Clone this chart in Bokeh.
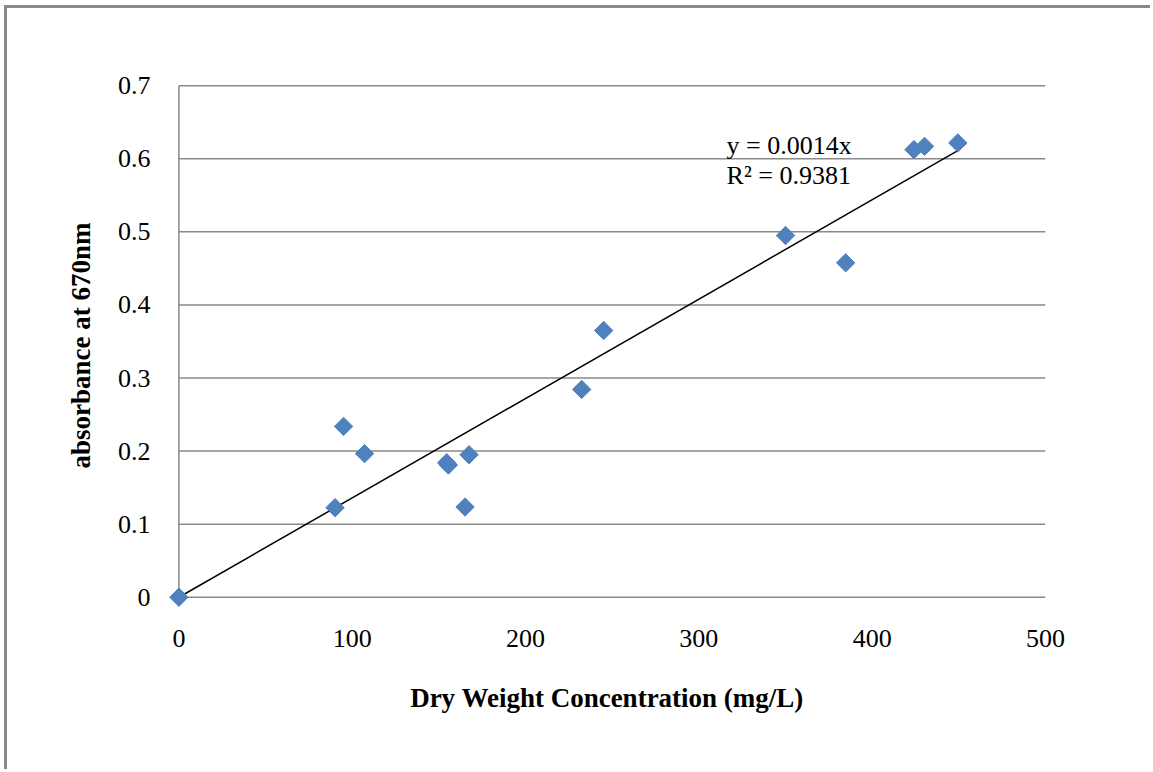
import numpy as np
from bokeh.plotting import figure
from bokeh.models import Range1d, FixedTicker, Label, ColumnDataSource
from bokeh.embed import file_html
from bokeh.resources import INLINE

# Calibration measurements: dry weight concentration vs absorbance at 670 nm
dry_weight = [0, 90.1, 95.0, 107.1, 154.5, 155.5, 165.1, 167.4,
              232.4, 245.1, 350.0, 384.7, 424.1, 430.2, 449.4]
absorbance = [0, 0.1226, 0.2338, 0.1965, 0.184, 0.181, 0.1235, 0.195,
              0.2844, 0.365, 0.495, 0.4576, 0.6125, 0.617, 0.6217]

x_ticks = [0, 100, 200, 300, 400, 500]
x_tick_labels = ["0", "100", "200", "300", "400", "500"]
y_ticks = [0, 0.1, 0.2, 0.3, 0.4, 0.5, 0.6, 0.7]
y_tick_labels = ["0", "0.1", "0.2", "0.3", "0.4", "0.5", "0.6", "0.7"]

r_squared_text = "0.9381"

# Linear fit forced through the origin
xs = np.array(dry_weight)
ys = np.array(absorbance)
slope = float((xs * ys).sum() / (xs * xs).sum())

FONT = "Liberation Serif"
GRID = "#898989"
X_MIN, X_MAX = x_ticks[0], x_ticks[-1]
Y_MIN, Y_MAX = y_ticks[0], y_ticks[-1]

# Ranges are padded a little so the markers at the origin and the
# boundary gridlines are not clipped by the frame.
p = figure(width=1146, height=764, output_backend="svg", toolbar_location=None,
           x_range=Range1d(X_MIN - 6, X_MAX), y_range=Range1d(Y_MIN - 0.014, Y_MAX + 0.003),
           min_border_left=161, min_border_right=108,
           min_border_top=75, min_border_bottom=165,
           styles={"border-left": "3px solid #898989",
                   "border-top": "3px solid #898989",
                   "margin-left": "4px", "margin-top": "5px"})
p.outline_line_color = None
p.background_fill_color = "white"
p.border_fill_color = "white"

p.xgrid.grid_line_color = None
p.ygrid.grid_line_color = None

p.xaxis.ticker = FixedTicker(ticks=x_ticks)
p.xaxis.major_label_overrides = dict(zip(x_ticks, x_tick_labels))
p.yaxis.ticker = FixedTicker(ticks=y_ticks)
p.yaxis.major_label_overrides = dict(zip(y_ticks, y_tick_labels))

for ax in (p.xaxis[0], p.yaxis[0]):
    ax.axis_line_color = None
    ax.major_tick_line_color = None
    ax.minor_tick_line_color = None
    ax.major_label_text_font = FONT
    ax.major_label_text_font_size = "26px"
    ax.major_label_text_color = "black"
    ax.axis_label_text_font = FONT
    ax.axis_label_text_font_size = "27px"
    ax.axis_label_text_font_style = "bold"
    ax.axis_label_text_color = "black"

p.xaxis.major_label_standoff = 16
p.xaxis.axis_label = "Dry Weight Concentration (mg/L)"
p.xaxis.axis_label_standoff = 33

p.yaxis.major_label_standoff = 12
p.yaxis.axis_label = "absorbance at 670nm"
p.yaxis.axis_label_standoff = 19

# Horizontal gridlines and the vertical axis line, drawn across the value span
p.segment(x0=X_MIN, x1=X_MAX, y0=y_ticks, y1=y_ticks,
          line_color=GRID, line_width=1.5)
p.segment(x0=[X_MIN], x1=[X_MIN], y0=[Y_MIN], y1=[Y_MAX],
          line_color=GRID, line_width=1.5)

# Trend line through the origin across the measured span
x_end = float(xs.max())
p.line([0, x_end], [0, slope * x_end], line_color="black", line_width=1.5)

src = ColumnDataSource(dict(x=dry_weight, y=absorbance))
p.scatter("x", "y", source=src, marker="square", angle=np.pi / 4, size=13,
          fill_color="#4F81BD", line_color="#4F81BD")

eq1 = Label(x=316, y=0.618, text=f"y = {slope:.4f}x", text_font=FONT,
            text_font_size="26px", text_color="black", text_baseline="alphabetic")
eq2 = Label(x=316, y=0.577, text=f"R² = {r_squared_text}", text_font=FONT,
            text_font_size="26px", text_color="black", text_baseline="alphabetic")
p.add_layout(eq1)
p.add_layout(eq2)

open("out.html", "w").write(file_html(p, INLINE))
